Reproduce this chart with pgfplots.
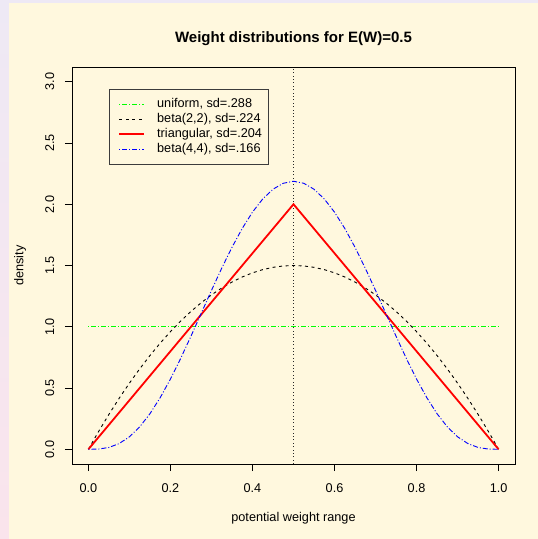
\documentclass[border=0pt]{standalone}
\usepackage{pgfplots}
\pgfplotsset{compat=1.18}
\usepackage{fontspec}
\setmainfont{Liberation Sans}
\definecolor{bgc}{RGB}{255,248,222}
\definecolor{stripL1}{RGB}{238,233,245}
\definecolor{stripL2}{RGB}{250,228,236}
\definecolor{stripT}{RGB}{238,233,245}
\definecolor{legbd}{RGB}{60,60,60}
\definecolor{rblue}{RGB}{0,0,255}
\begin{document}
\begin{tikzpicture}
\fill[bgc] (-72pt,-75pt) rectangle (466pt,464pt);
\shade[top color=stripL1, bottom color=stripL2] (-72pt,-75pt) rectangle (-63pt,464pt);
\fill[stripT] (-72pt,460.5pt) rectangle (466pt,464pt);
\begin{axis}[
  at={(0pt,0pt)}, anchor=south west,
  scale only axis, width=443pt, height=397pt,
  xmin=-0.04, xmax=1.04, ymin=-0.12, ymax=3.12,
  axis line style={black, line width=0.9pt},
  xtick={0,0.2,0.4,0.6,0.8,1.0},
  ytick={0,0.5,1,1.5,2,2.5,3},
  xtick pos=bottom, ytick pos=left,
  tick align=outside, major tick length=7pt,
  tick style={black, line width=0.9pt},
  /pgf/number format/assume math mode=true,
  /pgf/number format/.cd, fixed, fixed zerofill, precision=1, /pgfplots/.cd,
  ticklabel style={font=\fontsize{12.7}{15}\selectfont, inner sep=0pt},
  xticklabel style={anchor=base, yshift=-21.6pt},
  yticklabel style={rotate=90, anchor=base, yshift=11pt},
  title={Weight distributions for E(W)=0.5},
  title style={font=\bfseries\fontsize{15}{18}\selectfont, at={(0.5,1)}, anchor=base, yshift=18pt, inner sep=0pt},
  xlabel={potential weight range},
  xlabel style={font=\fontsize{12.7}{15}\selectfont, at={(axis description cs:0.5,-0.146)}, anchor=base, inner sep=0pt},
  ylabel={density},
  ylabel style={font=\fontsize{12.7}{15}\selectfont, at={(axis description cs:-0.1174,0.5)}, anchor=center, inner sep=0pt},
  legend cell align=left,
  legend image code/.code={\path (0pt,0pt); \draw[#1] (2.5pt,0pt) -- (27.5pt,0pt);},
  legend style={at={(0.0835,0.9446)}, anchor=north west, draw=legbd, line width=0.8pt, fill=bgc,
    inner xsep=6.5pt, inner ysep=9pt, row sep=3pt,
    font=\fontsize{12.7}{15}\selectfont,
    nodes={inner sep=0pt, text height=9.5pt, text depth=2.5pt},
    /tikz/every odd column/.style={column sep=12pt}},
]
\addplot[black!85, line width=0.8pt, dash pattern=on 0.8pt off 2.6pt, forget plot] coordinates {(0.5,-0.12) (0.5,3.12)};
\addplot[draw=green, line width=0.9pt, dash pattern=on 1pt off 2pt on 5pt off 2pt] coordinates {(0,1) (1,1)};
\addlegendentry{uniform, sd=.288}
\addplot[draw=black, line width=0.9pt, dash pattern=on 3pt off 3.5pt] coordinates {
(0,0) (0.025,0.14625) (0.05,0.285) (0.075,0.41625) (0.1,0.54) (0.125,0.65625) (0.15,0.765) (0.175,0.86625) (0.2,0.96) (0.225,1.04625) (0.25,1.125) (0.275,1.19625) (0.3,1.26) (0.325,1.31625) (0.35,1.365) (0.375,1.40625) (0.4,1.44) (0.425,1.46625) (0.45,1.485) (0.475,1.49625) (0.5,1.5)
(0.525,1.49625) (0.55,1.485) (0.575,1.46625) (0.6,1.44) (0.625,1.40625) (0.65,1.365) (0.675,1.31625) (0.7,1.26) (0.725,1.19625) (0.75,1.125) (0.775,1.04625) (0.8,0.96) (0.825,0.86625) (0.85,0.765) (0.875,0.65625) (0.9,0.54) (0.925,0.41625) (0.95,0.285) (0.975,0.14625) (1,0)};
\addlegendentry{beta(2,2), sd=.224}
\addplot[draw=red, line width=1.8pt] coordinates {(0,0) (0.5,2) (1,0)};
\addlegendentry{triangular, sd=.204}
\addplot[draw=rblue, line width=0.9pt, dash pattern=on 1pt off 2pt on 5pt off 2pt] coordinates {
(0,0) (0.025,0.00203) (0.05,0.01500) (0.075,0.04675) (0.1,0.10206) (0.125,0.18318) (0.15,0.29017) (0.175,0.42131) (0.2,0.57344) (0.225,0.74230) (0.25,0.92285) (0.275,1.10953) (0.3,1.29654) (0.325,1.47805) (0.35,1.64844) (0.375,1.80245) (0.4,1.93536) (0.425,2.04313) (0.45,2.12253) (0.475,2.17113) (0.5,2.1875)
(0.525,2.17113) (0.55,2.12253) (0.575,2.04313) (0.6,1.93536) (0.625,1.80245) (0.65,1.64844) (0.675,1.47805) (0.7,1.29654) (0.725,1.10953) (0.75,0.92285) (0.775,0.74230) (0.8,0.57344) (0.825,0.42131) (0.85,0.29017) (0.875,0.18318) (0.9,0.10206) (0.925,0.04675) (0.95,0.01500) (0.975,0.00203) (1,0)};
\addlegendentry{beta(4,4), sd=.166}
\end{axis}
\end{tikzpicture}
\end{document}
